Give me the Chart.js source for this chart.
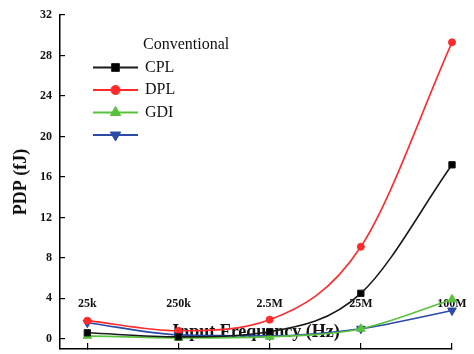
<!DOCTYPE html>
<html>
<head>
<meta charset="utf-8">
<script src="https://cdn.jsdelivr.net/npm/chart.js@4/dist/chart.umd.min.js"></script>
<style>
  html, body { margin: 0; padding: 0; background: #fff; }
  canvas { display: block; }
</style>
</head>
<body>
<canvas id="pdpChart" width="474" height="354"></canvas>
<script>
// Data
const frequencies = ['25k', '250k', '2.5M', '25M', '100M'];
const yTicks = [0, 4, 8, 12, 16, 20, 24, 28, 32];
const legendTitle = 'Conventional';
const seriesNames = ['CPL', 'DPL', 'GDI', ''];
const cplValues = [0.6, 0.2, 0.7, 4.5, 17.2];
const dplValues = [1.8, 0.8, 1.9, 9.1, 29.3];
const gdiValues = [0.3, 0.1, 0.2, 1.0, 3.9];
const fourthValues = [1.6, 0.4, 0.3, 1.0, 2.8];

const serif = '"Liberation Serif", "DejaVu Serif", serif';

function points(values) {
    return values.map((v, i) => ({ x: i, y: v }));
}

// legend drawn inside the plot, one row per dataset
const insideLegend = {
    id: 'insideLegend',
    afterDraw(chart) {
        const ctx = chart.ctx;
        const lineX0 = 93, lineX1 = 138, textX = 145;
        const top = 45, rowH = 22.5;
        ctx.save();
        ctx.font = '16px ' + serif;
        ctx.fillStyle = '#111';
        ctx.textBaseline = 'middle';
        ctx.fillText(legendTitle, 143, top);
        chart.data.datasets.forEach((ds, i) => {
            const y = top + rowH * (i + 1);
            ctx.strokeStyle = ds.borderColor;
            ctx.lineWidth = 2;
            ctx.beginPath();
            ctx.moveTo(lineX0, y);
            ctx.lineTo(lineX1, y);
            ctx.stroke();
            ctx.fillStyle = ds.pointBackgroundColor;
            ctx.strokeStyle = ds.borderColor;
            ctx.lineWidth = 1;
            Chart.helpers.drawPoint(ctx, {
                pointStyle: ds.pointStyle,
                rotation: ds.pointRotation || 0,
                radius: ds.pointRadius + 1,
                borderWidth: 1
            }, (lineX0 + lineX1) / 2, y);
            ctx.fillStyle = '#111';
            ctx.fillText(ds.label, textX, y);
        });
        ctx.restore();
    }
};

const ctx = document.getElementById('pdpChart').getContext('2d');
new Chart(ctx, {
    type: 'line',
    data: {
        datasets: [{
            label: seriesNames[0],
            data: points(cplValues),
            borderColor: '#1a1a1a',
            pointBackgroundColor: '#000',
            pointStyle: 'rect',
            pointRadius: 4.5
        }, {
            label: seriesNames[1],
            data: points(dplValues),
            borderColor: '#ff2b2b',
            pointBackgroundColor: '#ff2b2b',
            pointStyle: 'circle',
            pointRadius: 3.5
        }, {
            label: seriesNames[2],
            data: points(gdiValues),
            borderColor: '#58c23c',
            pointBackgroundColor: '#58c23c',
            pointStyle: 'triangle',
            pointRadius: 5
        }, {
            label: seriesNames[3],
            data: points(fourthValues),
            borderColor: '#2c4aa8',
            pointBackgroundColor: '#2c4aa8',
            pointStyle: 'triangle',
            pointRotation: 180,
            pointRadius: 5
        }]
    },
    options: {
        responsive: false,
        animation: false,
        clip: false,
        layout: { autoPadding: false, padding: { top: 15, right: 22, left: 0, bottom: 0 } },
        elements: {
            line: { borderWidth: 1.6, cubicInterpolationMode: 'monotone', fill: false },
            point: { borderWidth: 1 }
        },
        plugins: {
            legend: { display: false },
            tooltip: { enabled: false }
        },
        scales: {
            x: {
                type: 'linear',
                min: -0.3,
                max: 4,
                afterBuildTicks: (scale) => {
                    scale.ticks = frequencies.map((f, i) => ({ value: i }));
                },
                afterFit: (scale) => {
                    scale.height = 5;
                    scale.paddingLeft = 0;
                    scale.paddingRight = 0;
                },
                grid: { drawOnChartArea: false, tickLength: -6, color: '#000', lineWidth: 1.2 },
                border: { color: '#000', width: 1.5 },
                ticks: {
                    // labels sit inside the plot, above the axis line
                    mirror: true,
                    padding: 38,
                    maxRotation: 0,
                    autoSkip: false,
                    color: '#111',
                    font: { family: serif, size: 12, weight: 'bold' },
                    callback: (v) => frequencies[v]
                },
                title: {
                    display: true,
                    text: 'Input Frequency (Hz)',
                    color: '#111',
                    font: { family: serif, size: 18, weight: 'bold' },
                    padding: { top: 0, bottom: 11 }
                }
            },
            y: {
                min: -1,
                max: 32,
                afterBuildTicks: (scale) => {
                    scale.ticks = yTicks.map(v => ({ value: v }));
                },
                afterFit: (scale) => {
                    scale.width = 60;
                    scale.paddingTop = 0;
                    scale.paddingBottom = 0;
                },
                grid: { drawOnChartArea: false, tickLength: -5, color: '#000', lineWidth: 1.2 },
                border: { color: '#000', width: 1.5 },
                ticks: {
                    padding: 13,
                    color: '#111',
                    font: { family: serif, size: 12, weight: 'bold' }
                },
                title: {
                    display: true,
                    text: 'PDP (fJ)',
                    color: '#111',
                    font: { family: serif, size: 18, weight: 'bold' },
                    padding: { top: 11, bottom: 0 }
                }
            }
        }
    },
    plugins: [insideLegend]
});
</script>
</body>
</html>
